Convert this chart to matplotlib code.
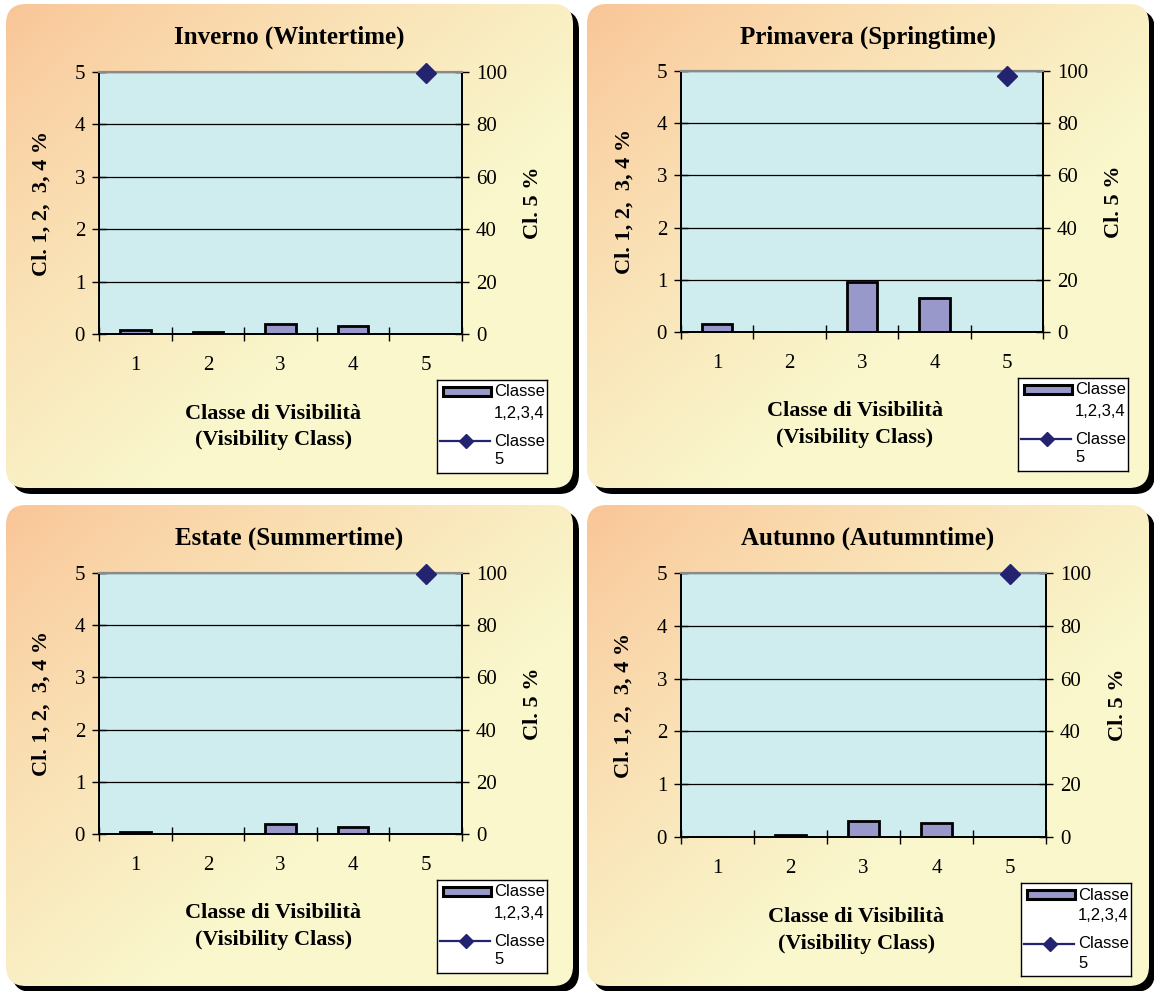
import numpy as np
import matplotlib
matplotlib.use("Agg")
import matplotlib.pyplot as plt
from matplotlib.patches import FancyBboxPatch, Rectangle
from matplotlib.lines import Line2D

plt.rcParams['font.family'] = ['Liberation Serif', 'DejaVu Serif']

W, H = 1154, 991

# data
classes = [1, 2, 3, 4, 5]
titles = ["Inverno (Wintertime)", "Primavera (Springtime)",
          "Estate (Summertime)", "Autunno (Autumntime)"]
bars_winter = [0.08, 0.03, 0.20, 0.16]
bars_spring = [0.15, 0.0, 0.95, 0.66]
bars_summer = [0.03, 0.0, 0.20, 0.14]
bars_autumn = [0.0, 0.04, 0.31, 0.27]
class5 = [99.6, 98.0, 99.7, 99.5]
left_ticks = [0, 1, 2, 3, 4, 5]
right_ticks = [0, 20, 40, 60, 80, 100]

bar_sets = [bars_winter, bars_spring, bars_summer, bars_autumn]

# layout in pixels (x0, y0, x1, y1) from top-left
boxes = [(6, 4, 573, 488), (587, 4, 1149, 488),
         (6, 505, 573, 986), (587, 505, 1149, 986)]
plots = [(99, 72, 462, 334), (681, 71, 1043, 332),
         (99, 573, 462, 834), (681, 573, 1046, 837)]

c_orange = np.array([249, 196, 150]) / 255
c_yellow = np.array([250, 247, 204]) / 255
plot_bg = '#CFECEF'
bar_col = '#9898CA'
navy = '#232370'


def frac(x0, y0, x1, y1):
    return [x0 / W, 1 - y1 / H, (x1 - x0) / W, (y1 - y0) / H]


fig = plt.figure(figsize=(W / 100, H / 100), dpi=100)

bg = fig.add_axes([0, 0, 1, 1], zorder=-10)
bg.set_xlim(0, W)
bg.set_ylim(H, 0)
bg.axis('off')

for (x0, y0, x1, y1) in boxes:
    sh = FancyBboxPatch((x0 + 6, y0 + 6), x1 - x0, y1 - y0,
                        boxstyle="round,pad=0,rounding_size=20",
                        facecolor='black', edgecolor='none', zorder=0)
    bg.add_patch(sh)
    clip = FancyBboxPatch((x0, y0), x1 - x0, y1 - y0,
                          boxstyle="round,pad=0,rounding_size=20",
                          facecolor='none', edgecolor='none', zorder=0)
    bg.add_patch(clip)
    u = np.linspace(0, 1, 200)
    uu, vv = np.meshgrid(u, u)
    t = np.clip((uu + vv) / 2 * 1.6, 0, 1) ** 0.8
    img = c_orange[None, None, :] * (1 - t[..., None]) + c_yellow[None, None, :] * t[..., None]
    im = bg.imshow(img, extent=(x0, x1, y1, y0), origin='upper',
                   interpolation='bilinear', aspect='auto', zorder=2)
    im.set_clip_path(clip)

bg.set_xlim(0, W)
bg.set_ylim(H, 0)

for i in range(4):
    px0, py0, px1, py1 = plots[i]
    bx0, by0, bx1, by1 = boxes[i]
    ax = fig.add_axes(frac(px0, py0, px1, py1))
    ax.set_facecolor(plot_bg)
    ax.bar(classes[:4], bar_sets[i], width=0.42, color=bar_col,
           edgecolor='black', linewidth=2.0, zorder=3)
    ax.set_xlim(0.5, 5.5)
    ax.set_ylim(0, 5)
    ax.set_yticks(left_ticks)
    ax.yaxis.grid(True, color='black', linewidth=0.9)
    ax.set_axisbelow(True)

    ax.set_xticks(np.arange(0.5, 6, 1))
    ax.set_xticklabels([])
    ax.set_xticks(classes, minor=True)
    ax.set_xticklabels([str(c) for c in classes], minor=True, fontsize=15)
    ax.tick_params(axis='x', which='minor', length=0, pad=16)
    ax.tick_params(axis='x', which='major', direction='inout', length=10, width=1)
    ax.tick_params(axis='y', direction='inout', length=10, width=1,
                   labelsize=15, pad=5)

    ax2 = ax.twinx()
    ax2.set_ylim(0, 100)
    ax2.set_yticks(right_ticks)
    ax2.tick_params(axis='y', direction='inout', length=10, width=1,
                    labelsize=15, pad=5)
    ax2.plot([classes[4]], [class5[i]], marker='D', ms=10, color=navy,
             linestyle='none', clip_on=False, zorder=5)

    for a in (ax, ax2):
        a.spines['top'].set_color('#8a8a8a')
        a.spines['top'].set_linewidth(1.5)
        for s in ('left', 'right', 'bottom'):
            a.spines[s].set_color('black')
            a.spines[s].set_linewidth(1.3)

    ax.text(-0.157, 0.5, "Cl. 1, 2,  3, 4 %", transform=ax.transAxes,
            rotation=90, ha='center', va='center', fontsize=16,
            fontweight='bold')
    ax.text(1.196, 0.5, "Cl. 5 %", transform=ax.transAxes,
            rotation=90, ha='center', va='center', fontsize=16,
            fontweight='bold')
    ax.text(0.48, -0.355, "Classe di Visibilità\n(Visibility Class)",
            transform=ax.transAxes, ha='center', va='center', fontsize=16,
            fontweight='bold', linespacing=1.45)

    fig.text((bx0 + bx1) / 2 / W, 1 - (by0 + 33) / H, titles[i],
             ha='center', va='center', fontsize=18, fontweight='bold')

    # legend box
    lx0, ly0 = px1 - 25, py1 + 46
    lg = fig.add_axes(frac(lx0, ly0, lx0 + 110, ly0 + 93))
    lg.set_xlim(0, 110)
    lg.set_ylim(93, 0)
    lg.set_xticks([])
    lg.set_yticks([])
    lg.set_facecolor('white')
    for s in lg.spines.values():
        s.set_color('black')
        s.set_linewidth(1)
    lg.add_patch(Rectangle((6, 7), 48, 9, facecolor=bar_col,
                           edgecolor='black', linewidth=2.2))
    lg.add_line(Line2D([3, 53], [61, 61], color=navy, linewidth=1.6))
    lg.plot([29], [61], marker='D', ms=7, color=navy)
    for txt, yy in (("Classe", 12), ("1,2,3,4", 33), ("Classe", 61), ("5", 80)):
        lg.text(57, yy, txt, ha='left', va='center', fontsize=12,
                family='Liberation Sans')

fig.savefig("out.png", dpi=100)
